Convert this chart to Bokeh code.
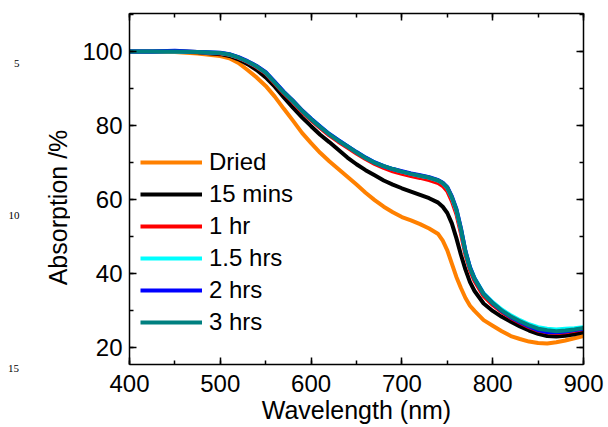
import math
from bokeh.plotting import figure
from bokeh.layouts import row
from bokeh.core.properties import value
from bokeh.models import (Range1d, SingleIntervalTicker, FixedTicker, LinearAxis,
                          Legend, LegendItem)
from bokeh.embed import file_html
from bokeh.resources import INLINE

# ---- data ----
wavelength = [400, 425, 450, 475, 500, 510, 520, 530, 540, 550, 560, 570, 580, 590,
              600, 610, 620, 630, 640, 650, 660, 670, 680, 690, 700, 710, 720, 730,
              740, 745, 750, 755, 760, 765, 770, 775, 780, 790, 800, 810, 820, 830,
              840, 850, 860, 870, 880, 890, 900]

dried = [100.0, 100.0, 99.9, 99.5, 98.8, 98.2, 96.9, 95.0, 93.0, 90.7, 87.8, 84.5, 81.3, 78.0,
         75.2, 72.6, 70.3, 68.2, 66.1, 64.0, 61.8, 59.8, 58.0, 56.5, 55.2, 54.3, 53.3, 52.1,
         50.6, 48.8, 46.2, 42.6, 39.0, 36.0, 33.3, 31.2, 29.8, 27.3, 25.8, 24.3, 23.0, 22.2,
         21.5, 21.1, 21.0, 21.3, 21.8, 22.4, 23.0]

mins15 = [100.0, 100.0, 100.0, 99.8, 99.3, 98.8, 97.9, 96.6, 95.0, 93.0, 90.5, 87.6, 84.8, 82.2,
          79.8, 77.5, 75.5, 73.4, 71.3, 69.5, 67.9, 66.5, 65.1, 64.0, 63.0, 62.1, 61.2, 60.3,
          59.1, 58.0, 56.3, 53.5, 49.5, 45.0, 41.0, 37.6, 35.2, 31.8, 29.8, 28.2, 26.9, 25.6,
          24.5, 23.6, 23.0, 22.9, 23.1, 23.5, 24.0]

hr1 = [100.0, 100.0, 100.0, 99.9, 99.5, 99.1, 98.3, 97.2, 95.8, 94.1, 91.4, 88.7, 86.3, 83.7,
       81.4, 79.3, 77.3, 75.6, 74.0, 72.4, 70.9, 69.6, 68.5, 67.6, 66.9, 66.3, 65.8, 65.2,
       64.4, 63.6, 62.2, 59.5, 56.0, 50.8, 45.0, 40.8, 37.9, 33.8, 31.4, 29.5, 27.9, 26.6,
       25.4, 24.5, 24.0, 23.8, 24.0, 24.4, 24.9]

hrs1_5 = [100.0, 100.0, 100.0, 99.9, 99.6, 99.2, 98.4, 97.3, 96.0, 94.3, 91.7, 89.0, 86.6, 84.0,
          81.8, 79.7, 77.7, 76.0, 74.4, 72.8, 71.3, 70.0, 69.0, 68.2, 67.5, 66.9, 66.4, 65.9,
          65.1, 64.4, 63.1, 60.5, 57.0, 51.8, 45.9, 41.6, 38.7, 34.6, 32.2, 30.2, 28.6, 27.3,
          26.2, 25.4, 25.0, 24.8, 25.0, 25.1, 25.4]

hrs2 = [100.0, 100.0, 100.2, 99.9, 99.7, 99.3, 98.5, 97.4, 96.1, 94.4, 91.8, 89.1, 86.7, 84.1,
        81.8, 79.7, 77.7, 76.0, 74.4, 72.8, 71.3, 70.0, 69.0, 68.2, 67.6, 67.0, 66.5, 66.0,
        65.2, 64.5, 63.3, 60.8, 57.4, 52.2, 46.0, 41.6, 38.6, 34.4, 31.9, 29.8, 28.1, 26.8,
        25.6, 24.6, 24.1, 24.0, 24.2, 24.6, 25.0]

hrs3 = [100.0, 100.0, 100.0, 99.9, 99.6, 99.2, 98.4, 97.3, 96.0, 94.3, 91.6, 88.9, 86.6, 84.0,
        81.7, 79.6, 77.6, 75.9, 74.3, 72.7, 71.2, 69.9, 69.0, 68.2, 67.5, 66.9, 66.4, 65.9,
        65.1, 64.4, 63.2, 60.6, 57.2, 52.0, 45.8, 41.4, 38.5, 34.3, 31.9, 29.9, 28.3, 27.0,
        25.9, 25.0, 24.6, 24.3, 24.5, 24.8, 25.2]

series_names = ["Dried", "15 mins", "1 hr", "1.5 hrs", "2 hrs", "3 hrs"]
series_values = [dried, mins15, hr1, hrs1_5, hrs2, hrs3]
series_colors = ["#FF8000", "#000000", "#FF0000", "#00FFFF", "#0000FF", "#008080"]

x_title = "Wavelength (nm)"
y_title = "Absorption /%"
line_numbers = ["5", "10", "15"]

FONT = "Liberation Sans"
W = 608
H = 427
LEFT_W = 70
FRAME_L, FRAME_R, FRAME_T, FRAME_B = 129, 583, 13, 364

# ---- left strip: page line numbers and the y-axis title ----
# its frame is aligned with the main frame (page y 13..364); data y = H - page y
side = figure(width=LEFT_W, height=H, output_backend="svg", toolbar_location=None,
              x_range=Range1d(0, LEFT_W), y_range=Range1d(H - FRAME_B, H - FRAME_T),
              x_axis_type=None, y_axis_type=None, min_border_left=0,
              min_border_right=0, min_border_top=FRAME_T, min_border_bottom=H - FRAME_B)
side.outline_line_color = None
side.text(x=[19, 19], y=[H - 63, H - 215], text=line_numbers[:2],
          text_align="right", text_baseline="middle",
          text_font=value("Liberation Serif"), text_font_size=value("11px"),
          text_color="black")
side.text(x=[57], y=[H - 207], text=[y_title], angle=math.pi / 2,
          text_align="center", text_baseline="middle",
          text_font=value(FONT), text_font_size=value("25px"), text_color="black")
# the third line number sits just below the frame: use a bare axis label for it
num_axis = LinearAxis(ticker=FixedTicker(ticks=[13]),
                      major_label_overrides={13: line_numbers[2]})
num_axis.axis_line_color = None
num_axis.major_tick_line_color = None
num_axis.minor_tick_line_color = None
num_axis.major_tick_in = 0
num_axis.major_tick_out = 0
num_axis.major_label_standoff = 0
num_axis.major_label_text_font = "Liberation Serif"
num_axis.major_label_text_font_size = "11px"
num_axis.major_label_text_color = "black"
side.add_layout(num_axis, "below")

# ---- main plot ----
p = figure(width=W - LEFT_W, height=H, output_backend="svg", toolbar_location=None,
           x_range=Range1d(400, 900), y_range=Range1d(15.3, 110.3),
           x_axis_type=None, y_axis_type=None,
           min_border_left=FRAME_L - LEFT_W, min_border_right=W - FRAME_R,
           min_border_top=FRAME_T, min_border_bottom=H - FRAME_B)
p.outline_line_color = None


def style_axis(ax, show_labels):
    ax.axis_line_color = "black"
    ax.axis_line_width = 1.5
    ax.major_tick_in = 7
    ax.major_tick_out = 0
    ax.minor_tick_in = 4
    ax.minor_tick_out = 0
    ax.major_tick_line_color = "black"
    ax.minor_tick_line_color = "black"
    ax.major_tick_line_width = 1.5
    ax.minor_tick_line_width = 1.5
    ax.major_label_text_font = FONT
    if show_labels:
        ax.major_label_text_color = "black"
        ax.major_label_text_font_size = "24px"
    else:
        ax.major_label_text_color = None
        ax.major_label_text_font_size = "0px"
        ax.major_label_standoff = 0


xb = LinearAxis(ticker=SingleIntervalTicker(interval=100, num_minor_ticks=2))
style_axis(xb, True)
xb.major_label_standoff = 10
xb.axis_label = x_title
xb.axis_label_text_font = FONT
xb.axis_label_text_font_size = "25px"
xb.axis_label_text_font_style = "normal"
xb.axis_label_text_color = "black"
xb.axis_label_standoff = 1
p.add_layout(xb, "below")

xt = LinearAxis(ticker=SingleIntervalTicker(interval=100, num_minor_ticks=2))
style_axis(xt, False)
p.add_layout(xt, "above")

yl = LinearAxis(ticker=SingleIntervalTicker(interval=20, num_minor_ticks=2))
style_axis(yl, True)
yl.major_label_standoff = 7
p.add_layout(yl, "left")

yr = LinearAxis(ticker=SingleIntervalTicker(interval=20, num_minor_ticks=2))
style_axis(yr, False)
p.add_layout(yr, "right")

items = []
for name, vals, col in zip(series_names, series_values, series_colors):
    r = p.line(wavelength, vals, line_color=col, line_width=4)
    items.append(LegendItem(label=name, renderers=[r]))

legend = Legend(items=items, location=(11, 26), padding=0, margin=0, spacing=0,
                glyph_width=62, glyph_height=32, label_height=32, label_standoff=7,
                label_text_font=FONT, label_text_font_size="24px",
                label_text_color="black",
                border_line_color=None, background_fill_alpha=0)
p.add_layout(legend, "center")

layout = row(side, p, spacing=0)
open("out.html", "w").write(file_html(layout, INLINE))
